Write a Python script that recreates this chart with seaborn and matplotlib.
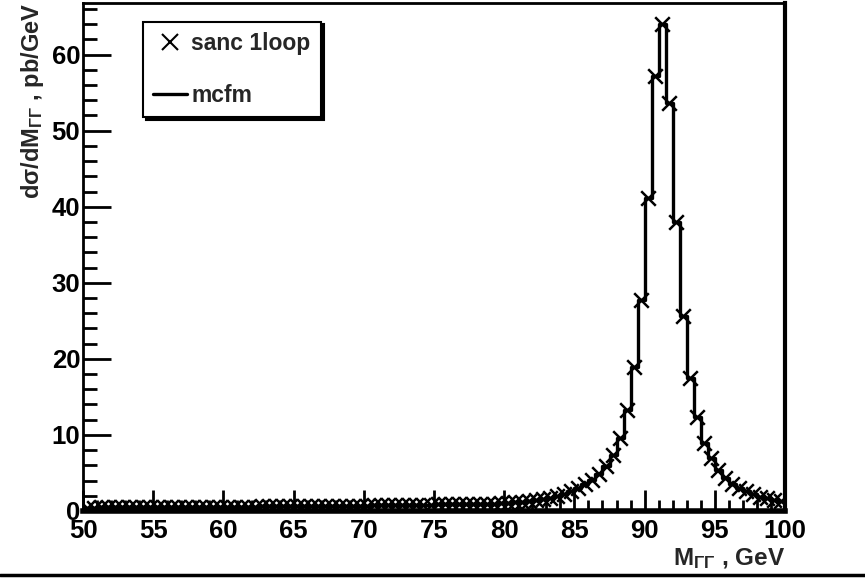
import numpy as np
import pandas as pd
import seaborn as sns
import matplotlib.pyplot as plt
from matplotlib.lines import Line2D
from matplotlib.ticker import MultipleLocator

# bin centres of the histogram, 0.5 GeV wide bins from 50 to 100 GeV
bin_centers = np.arange(50.25, 100.0, 0.5)

# d(sigma)/dM in pb/GeV (one value per bin)
xsec = [
    0.45, 0.45, 0.46, 0.46, 0.47, 0.47, 0.48, 0.48, 0.49, 0.49,
    0.50, 0.50, 0.51, 0.51, 0.52, 0.52, 0.53, 0.53, 0.54, 0.55,
    0.55, 0.56, 0.57, 0.57, 0.58, 0.59, 0.60, 0.60, 0.61, 0.62,
    0.63, 0.64, 0.65, 0.66, 0.67, 0.68, 0.69, 0.70, 0.71, 0.72,
    0.72, 0.73, 0.74, 0.75, 0.77, 0.78, 0.80, 0.81, 0.83, 0.85,
    0.86, 0.87, 0.88, 0.90, 0.91, 0.92, 0.94, 0.96, 0.98, 1.00,
    1.05, 1.12, 1.20, 1.30, 1.42, 1.58, 1.75, 1.98, 2.25, 2.60,
    3.00, 3.50, 4.10, 4.90, 5.90, 7.40, 9.60, 13.3, 18.9, 27.8,
    41.2, 57.2, 64.0, 53.7, 38.0, 25.6, 17.5, 12.3, 9.00, 6.90,
    5.40, 4.40, 3.60, 3.00, 2.60, 2.20, 1.90, 1.65, 1.45, 1.25,
]

x_ticks = [50, 55, 60, 65, 70, 75, 80, 85, 90, 95, 100]
y_ticks = [0, 10, 20, 30, 40, 50, 60]

df = pd.DataFrame({'M': bin_centers, 'xsec': xsec})

sns.set_theme(style='ticks')
plt.rcParams['font.family'] = ['Liberation Sans', 'DejaVu Sans']
plt.rcParams['font.weight'] = 'bold'
plt.rcParams['mathtext.fontset'] = 'custom'
plt.rcParams['mathtext.rm'] = 'Liberation Sans:bold'
plt.rcParams['mathtext.bf'] = 'Liberation Sans:bold'
plt.rcParams['mathtext.it'] = 'Liberation Sans:bold'
plt.rcParams['mathtext.default'] = 'bf'

fig = plt.figure(figsize=(8.65, 5.8), dpi=100)
ax = fig.add_axes([0.096, 0.119, 0.8115, 0.876])

# mcfm: histogram drawn as a step line
sns.histplot(data=df, x='M', weights='xsec', binwidth=0.5, binrange=(50, 100),
             element='step', fill=False, color='black', linewidth=2.4, ax=ax)
# sanc 1loop: crosses at bin centres
sns.scatterplot(data=df, x='M', y='xsec', marker='x', s=110, color='black',
                linewidth=1.8, ax=ax, zorder=3)

ax.set_xlim(50, 100)
ax.set_ylim(0, 66.8)
ax.set_xticks(x_ticks)
ax.set_yticks(y_ticks)
ax.xaxis.set_minor_locator(MultipleLocator(1))
ax.yaxis.set_minor_locator(MultipleLocator(2))
ax.tick_params(axis='both', which='both', direction='in', colors='black',
               labelsize=18.5)
ax.tick_params(axis='x', which='major', length=15, width=2, pad=6)
ax.tick_params(axis='x', which='minor', length=8, width=2)
ax.tick_params(axis='y', which='major', length=20, width=2, pad=2)
ax.tick_params(axis='y', which='minor', length=10, width=2)
for lab in ax.get_xticklabels() + ax.get_yticklabels():
    lab.set_fontweight('bold')

for side, lw in [('left', 2), ('bottom', 4), ('right', 3), ('top', 2)]:
    ax.spines[side].set_visible(True)
    ax.spines[side].set_linewidth(lw)
    ax.spines[side].set_color('black')

ax.set_xlabel(r'M$_{\Gamma\Gamma}$ , GeV', loc='right', fontsize=17.5,
              fontweight='bold', labelpad=2)
ax.set_ylabel(r'd$\sigma$/dM$_{\Gamma\Gamma}$ , pb/GeV', loc='top',
              fontsize=17, fontweight='bold', labelpad=4)

handles = [
    Line2D([], [], marker='x', linestyle='none', color='black',
           markersize=11, markeredgewidth=1.5),
    Line2D([], [], color='black', linewidth=2.4),
]
leg = ax.legend(handles, ['sanc 1loop', 'mcfm'], loc='upper left',
                bbox_to_anchor=(0.0855, 0.963), borderaxespad=0,
                frameon=True, fancybox=False,
                shadow={'color': 'black', 'alpha': 1},
                edgecolor='black', handlelength=1.45,
                handletextpad=0.2, labelspacing=1.25, borderpad=0.45,
                prop={'weight': 'bold', 'size': 16.5})
leg.get_frame().set_linewidth(1.5)
leg.get_frame().set_alpha(1)

# the page line under the plot
fig.add_artist(Line2D([0, 1], [0.009, 0.009], transform=fig.transFigure,
                      color='black', linewidth=2.5))

fig.savefig('out.png', dpi=100)
